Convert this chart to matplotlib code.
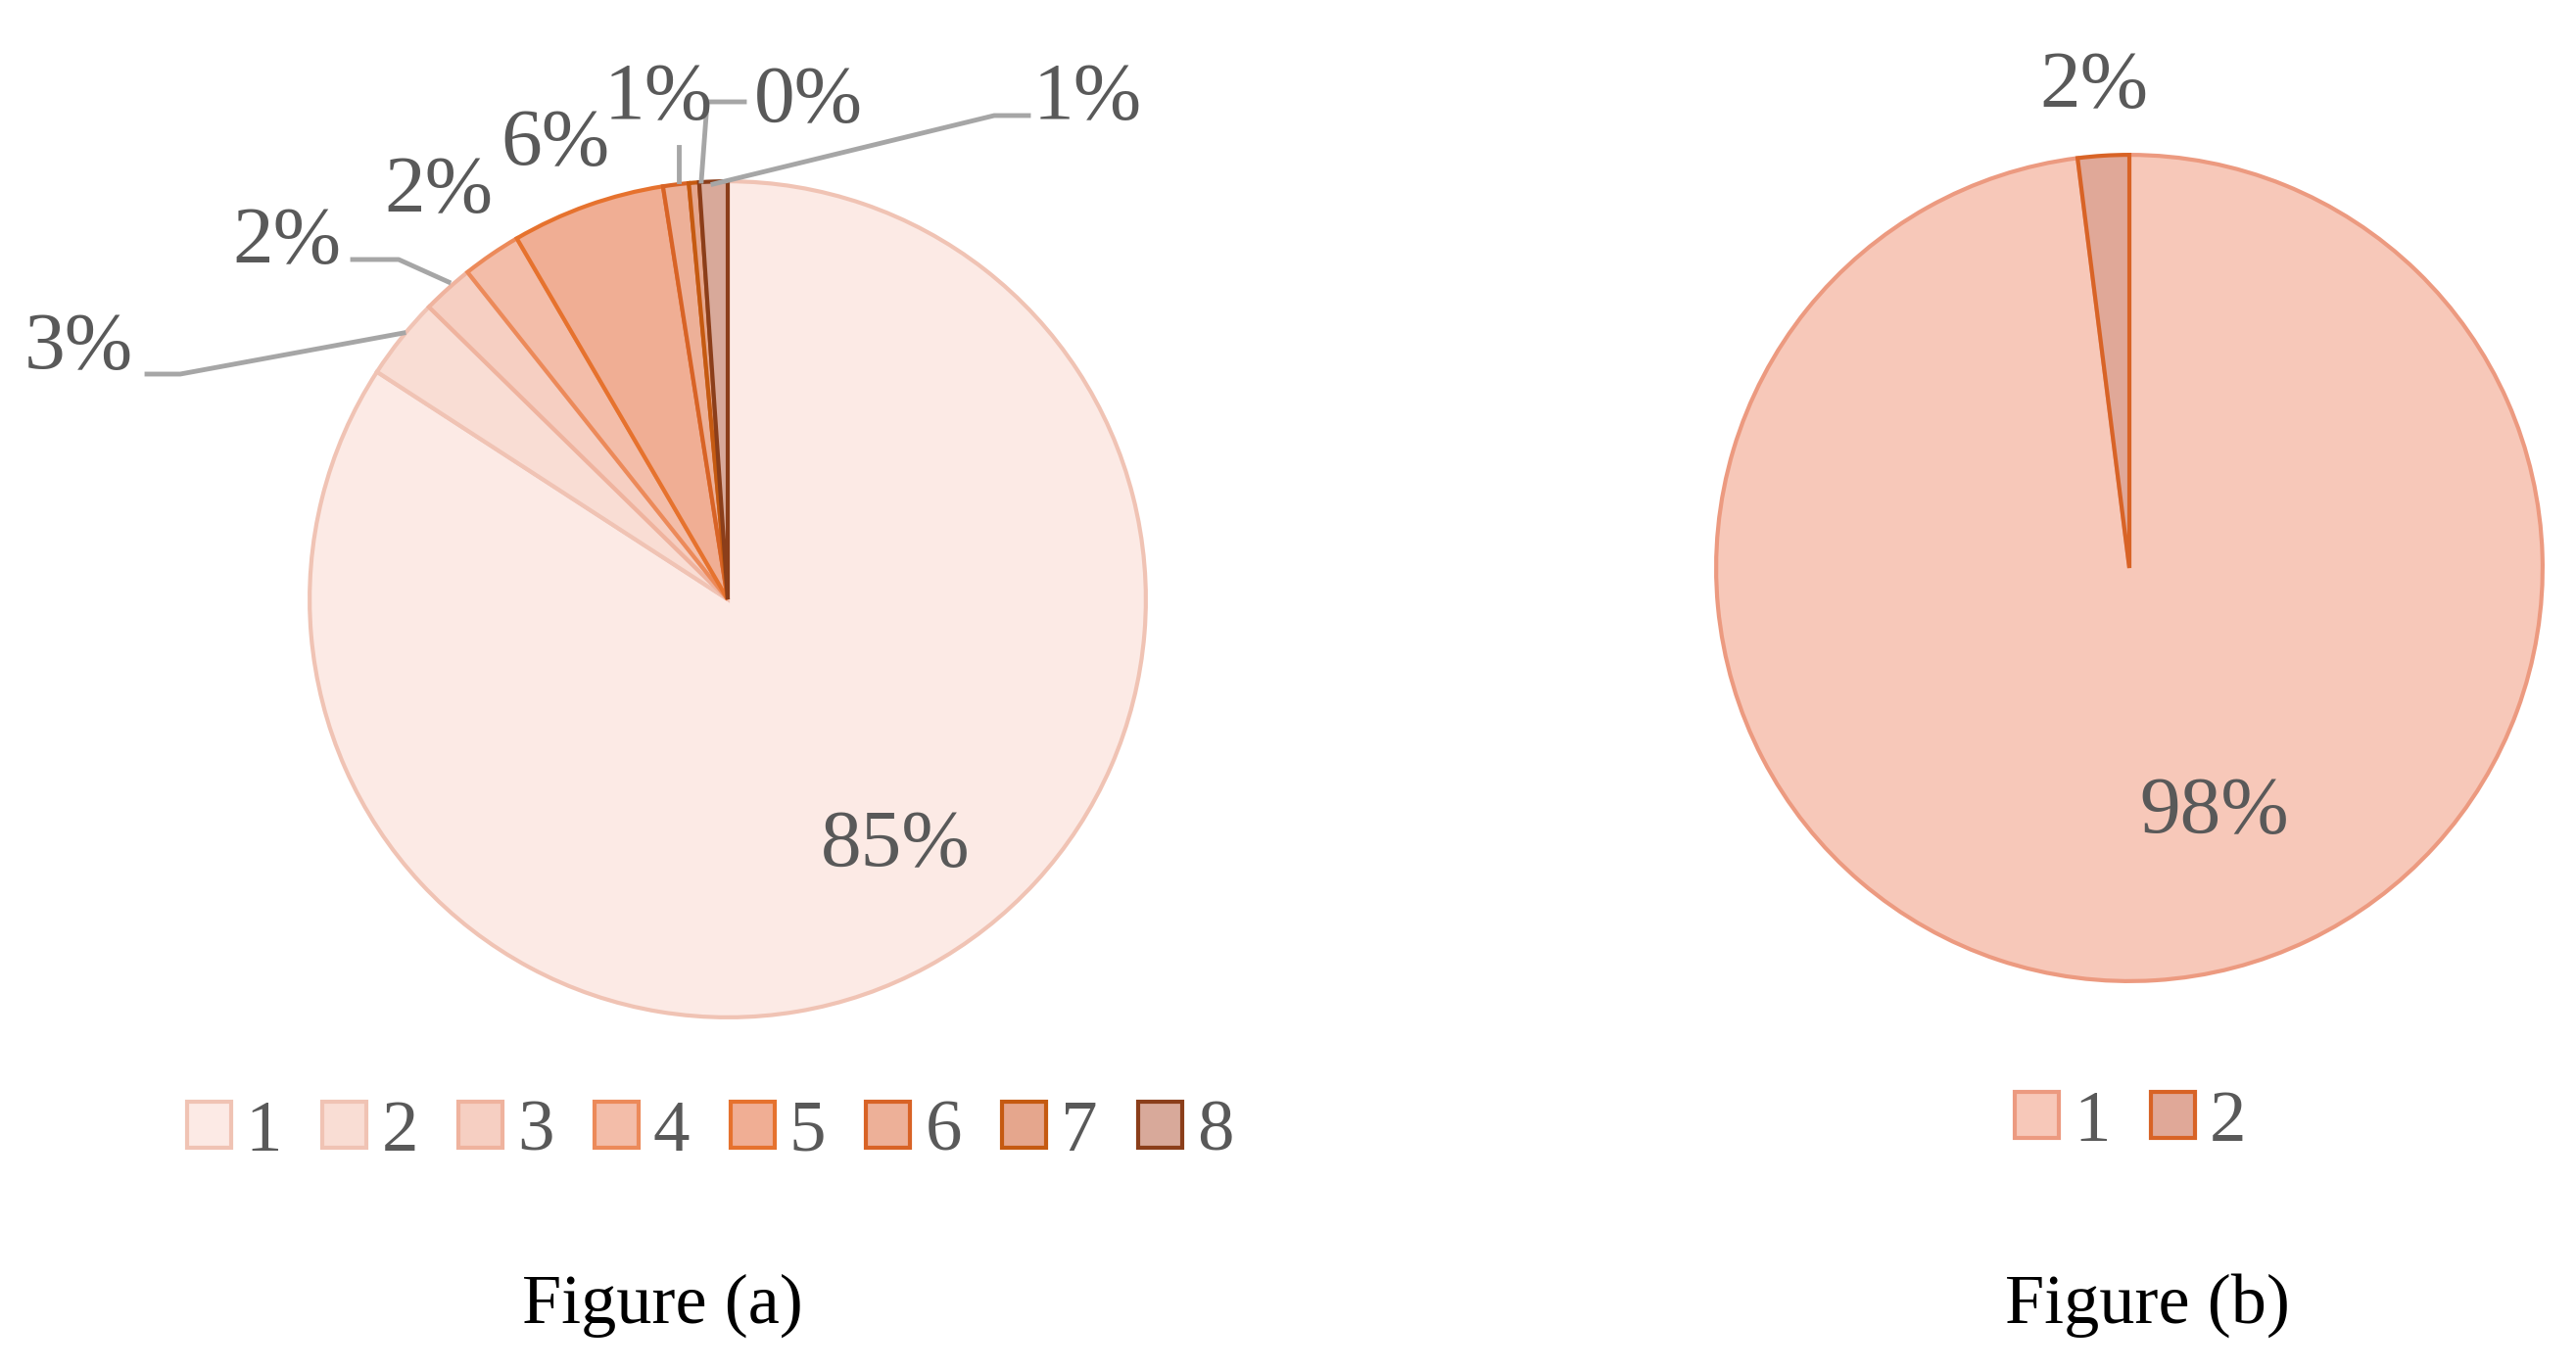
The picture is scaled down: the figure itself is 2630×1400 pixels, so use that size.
import matplotlib
matplotlib.use("Agg")
import matplotlib.pyplot as plt
import numpy as np

plt.rcParams['font.family'] = ['Liberation Serif', 'DejaVu Serif']

cats_a = ['1', '2', '3', '4', '5', '6', '7', '8']
vals_a = [85.0, 3.2, 2.0, 2.3, 6.0, 1.0, 0.4, 1.1]
labels_a = ['85%', '3%', '2%', '2%', '6%', '1%', '0%', '1%']
cats_b = ['1', '2']
vals_b = [98.0, 2.0]
labels_b = ['98%', '2%']

fill_a = ['#FCEAE5', '#F9DDD4', '#F6CFC2', '#F3BDA9', '#F0AE94', '#EDB098', '#E5A68D', '#D8A99A']
edge_a = ['#F0C3B4', '#F0C3B4', '#EFB39E', '#EC8A5A', '#E6722E', '#D86326', '#C55A11', '#8B3E1A']
fill_b = ['#F7C8B9', '#E0A898']
edge_b = ['#EC9A80', '#D86326']

W, H = 2630, 1400
fig = plt.figure(figsize=(W/100, H/100), dpi=100)
grey = '#595959'
lgrey = '#A6A6A6'

def fp(x, y):
    return (x/W, 1 - y/H)

def make_pie(cx, cy, r, vals, fills, edges):
    ax = fig.add_axes([(cx - r)/W, 1 - (cy + r)/H, 2*r/W, 2*r/H])
    w, _ = ax.pie(vals, colors=fills, startangle=90, counterclock=False, radius=1,
                  wedgeprops=dict(linewidth=3))
    for wi, e in zip(w, edges):
        wi.set_edgecolor(e)
    ax.set_xlim(-1.005, 1.005); ax.set_ylim(-1.005, 1.005); ax.axis('off')
    return w

wa = make_pie(743, 612, 429, vals_a, fill_a, edge_a)
wb = make_pie(2174, 580, 424, vals_b, fill_b, edge_b)

fs = 60
pos_a = [(914, 864), (80, 356), (293, 248), (448, 196), (567, 148), (672, 101), (825, 104), (1110, 101)]
for lab, (x, y) in zip(labels_a, pos_a):
    fig.text(*fp(x, y), lab, ha='center', va='center', fontsize=fs, color=grey)
pos_b = [(2261, 830), (2138, 89)]
for lab, (x, y) in zip(labels_b, pos_b):
    fig.text(*fp(x, y), lab, ha='center', va='center', fontsize=fs, color=grey)

leaders = [
    [(150, 382), (184, 382), (412, 340)],
    [(360, 265), (407, 265), (458, 288)],
    [(693, 150), (693, 185)],
    [(760, 104), (722, 104), (716, 185)],
    [(1050, 118), (1015, 118), (728, 188)],
]
for pts in leaders:
    xs = [p[0]/W for p in pts]; ys = [1 - p[1]/H for p in pts]
    fig.add_artist(plt.Line2D(xs, ys, color=lgrey, lw=3.5))

fig.legend(wa, cats_a, loc='center', bbox_to_anchor=fp(725, 1157), ncol=8, frameon=False,
           fontsize=54, labelcolor=grey, handlelength=0.6, handleheight=0.6,
           handletextpad=0.2, columnspacing=0.55)
fig.legend(wb, cats_b, loc='center', bbox_to_anchor=fp(2175, 1147), ncol=2, frameon=False,
           fontsize=54, labelcolor=grey, handlelength=0.6, handleheight=0.6,
           handletextpad=0.2, columnspacing=0.55)

fig.text(*fp(676, 1333), 'Figure (a)', ha='center', va='center', fontsize=52, color='black')
fig.text(*fp(2192, 1333), 'Figure (b)', ha='center', va='center', fontsize=52, color='black')

fig.savefig('out.png', dpi=100, facecolor='white')
